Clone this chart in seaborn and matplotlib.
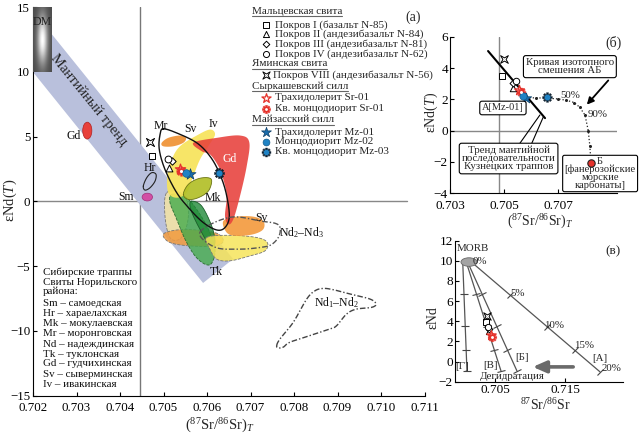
import numpy as np
import pandas as pd
import matplotlib
matplotlib.use("Agg")
import matplotlib.pyplot as plt
import seaborn as sns
from matplotlib.patches import Ellipse
from matplotlib.path import Path
from matplotlib.markers import MarkerStyle
from matplotlib.transforms import Affine2D
from matplotlib.lines import Line2D
from matplotlib.ticker import FormatStrFormatter

# ======================= DATA =======================
samples = ["N-85", "N-84", "N-81", "N-62", "N-56", "Sr-01t", "Sr-01q", "Mz-01", "Mz-02", "Mz-03"]
# panel (a)
a_x = [0.70473, 0.70513, 0.70520, 0.70510, 0.70470, 0.70538, 0.70540, 0.70561, 0.70552, 0.70628]
a_y = [3.50, 2.60, 3.10, 3.30, 4.55, 2.50, 2.33, 2.08, 2.20, 2.20]
# panel (б)
b_x = [0.70493, 0.70535, 0.70535, 0.70544, 0.70500, 0.70556, 0.70562, 0.70582, 0.70572, 0.70658]
b_y = [3.50, 2.75, 3.05, 3.20, 4.60, 2.60, 2.45, 2.10, 2.20, 2.15]
# panel (в)
c_x = [0.70365, 0.70410, 0.70420, 0.70400, 0.70380, 0.70450, 0.70460, np.nan, np.nan, np.nan]
c_y = [3.95, 3.00, 3.25, 3.45, 4.50, 2.65, 2.40, np.nan, np.nan, np.nan]

# ---- fields of Noril'sk formations, panel (a)
band_x = [0.70200, 0.70200, 0.70660, 0.70591]
band_y = [9.98, 14.70, -4.45, -6.30]
iv_x = [0.705763, 0.706069, 0.706184, 0.70603, 0.705839, 0.705685, 0.705533, 0.705303, 0.70511, 0.705087, 0.705189, 0.705379]
iv_y = [5.08, 5.54, 5.15, 4.25, 3.23, 1.95, 0.67, 0.28, 0.67, 1.95, 3.23, 4.25]
pale_x = [0.705074, 0.705455, 0.70557, 0.705533, 0.705379, 0.705149, 0.705034]
pale_y = [0.67, 0.54, -0.62, -1.9, -2.9, -2.8, -1.13]
tk_x = [0.705189, 0.705494, 0.705763, 0.70603, 0.706184, 0.706108, 0.705954, 0.705724, 0.705494, 0.705303, 0.705149]
tk_y = [0.54, 0.36, -0.62, -2.15, -3.69, -4.77, -4.85, -4.21, -2.92, -1.38, -0.1]
tkd_x = [0.705648, 0.705878, 0.706108, 0.706184, 0.706069, 0.705878, 0.705685, 0.705609]
tkd_y = [0.02, -0.36, -1.9, -3.18, -3.44, -2.41, -1.13, -0.36]
mk_x = [0.705455, 0.70557, 0.7058, 0.70603, 0.706108, 0.70603, 0.7058, 0.70557]
mk_y = [0.54, 1.31, 1.75, 1.82, 1.56, 0.79, 0.28, 0.15]
gd_x = [0.705685, 0.706223, 0.706759, 0.706972, 0.706913, 0.706759, 0.706605, 0.70649, 0.706414, 0.706453, 0.706375, 0.70626, 0.706069, 0.705878]
gd_y = [4.52, 4.90, 5.08, 4.56, 2.72, 0.41, -1.38, -1.77, -1.13, 0.41, 1.69, 2.72, 3.62, 3.87]
svt_x = [0.704959, 0.70511, 0.705379, 0.705517, 0.705455, 0.705225, 0.704995]
svt_y = [4.52, 4.9, 5.08, 4.9, 4.52, 4.25, 4.25]
orl_x = [0.704995, 0.705303, 0.705763, 0.706223, 0.706375, 0.706184, 0.705609, 0.705149]
orl_y = [-2.54, -2.21, -2.21, -2.46, -3.05, -3.44, -3.44, -3.18]
svl_x = [0.706375, 0.706683, 0.707064, 0.707294, 0.707294, 0.707064, 0.706683, 0.706453]
svl_y = [-1.52, -1.18, -1.18, -1.52, -2.15, -2.54, -2.67, -2.41]
yel_x = [0.705993, 0.706529, 0.707143, 0.707386, 0.707333, 0.706989, 0.706529, 0.706223, 0.706069]
yel_y = [-2.79, -2.62, -2.79, -3.18, -3.82, -4.21, -4.59, -4.46, -3.69]
nd23_x = [0.705839, 0.706529, 0.707264, 0.707563, 0.707678, 0.707655, 0.707494, 0.707264, 0.706759, 0.706184]
nd23_y = [-2.38, -1.23, -1.54, -1.69, -2.0, -2.69, -3.31, -3.54, -3.69, -3.54]
nd12_x = [0.707602, 0.707678, 0.707984, 0.708292, 0.708483, 0.708674, 0.708903, 0.709287, 0.709747, 0.709885,
          0.709786, 0.709441, 0.709211, 0.708982, 0.708828, 0.708368, 0.707908, 0.707754, 0.707639]
nd12_y = [-11.13, -10.62, -9.33, -7.54, -6.9, -6.72, -6.82, -7.15, -7.54, -7.92,
          -8.18, -8.31, -8.69, -9.59, -9.85, -10.36, -10.87, -11.25, -11.31]
mr_x = [0.704995, 0.705303, 0.705763, 0.706069, 0.706283, 0.706437, 0.706513, 0.706414, 0.706223, 0.705915,
        0.705609, 0.705303, 0.705034, 0.704903, 0.70492]
mr_y = [5.59, 5.28, 4.52, 3.48, 2.2, 0.67, -1.13, -2.02, -2.21, -1.64, -0.62, 0.67, 2.46, 4.0, 5.15]
hr_x = [0.704536, 0.704614, 0.704729, 0.704828, 0.704805, 0.70469, 0.704575]
hr_y = [1.18, 1.82, 2.21, 2.08, 1.56, 1.05, 0.87]
sm_center, sm_w, sm_h = (0.704628, 0.33), 0.00024, 0.60
gds_center, gds_w, gds_h = (0.703248, 5.46), 0.00021, 1.30
dm_x = [0.70200, 0.70242]
dm_y = [10.0, 15.0]

field_labels = ["Gd", "Sm", "Hr", "Mr", "Sv", "Iv", "Gd", "Mk", "Sv", "Tk", "Nd$_2$–Nd$_3$", "Nd$_1$–Nd$_2$"]
field_lab_x = [0.702943, 0.704138, 0.704674, 0.704936, 0.705609, 0.706145, 0.706529, 0.70613, 0.70724, 0.706223, 0.708177, 0.708982]
field_lab_y = [5.02, 0.36, 2.6, 5.85, 5.59, 6.0, 3.28, 0.28, -1.3, -5.44, -2.41, -7.85]

ref_x_a, ref_y_a, ref_y_a_end = 0.70445, 0.0, 0.7106

legend_rows = [("head", "Мальцевская свита"), ("N-85", "Покров I (базальт N-85)"),
               ("N-84", "Покров II (андезибазальт N-84)"), ("N-81", "Покров III (андезибазальт N-81)"),
               ("N-62", "Покров IV (андезибазальт N-62)"), ("head", "Яминская свита"),
               ("N-56", "Покров VIII (андезибазальт N-56)"), ("head", "Сыркашевский силл"),
               ("Sr-01t", "Трахидолерит Sr-01"), ("Sr-01q", "Кв. монцодиорит Sr-01"),
               ("head", "Майзасский силл"), ("Mz-01", "Трахидолерит Mz-01"),
               ("Mz-02", "Монцодиорит Mz-02"), ("Mz-03", "Кв. монцодиорит Mz-03")]
key_lines = ["Сибирские траппы", "Свиты Норильского", "района:", "Sm – самоедская", "Hr – хараелахская",
             "Mk – мокулаевская", "Mr – моронговская", "Nd – надеждинская", "Tk – туклонская",
             "Gd – гудчихинская", "Sv – сыверминская", "Iv – ивакинская"]

# ---- panel (б)
trend_x = [0.70441, 0.70652]
trend_y = [5.1, 0.8]
mix_x = [0.70582, 0.70620, 0.70660, 0.70700, 0.70730, 0.70760, 0.70780, 0.70800, 0.70812, 0.70818, 0.70822]
mix_y = [2.10, 2.10, 2.08, 2.03, 1.95, 1.80, 1.50, 1.00, 0.00, -1.00, -2.05]
carb_x, carb_y = 0.70822, -2.05
ref_x_b = 0.7048

# ---- panel (в)
mix_names = ["А", "Б", "В", "Г"]
mv_start_x = [0.70167, 0.70104, 0.70086, 0.70039]
mv_start_y = [9.86, 9.96, 9.96, 9.96]
mv_end_x = [0.72000, 0.70814, 0.70586, 0.70100]
mv_end_y = [-1.02, -0.93, -0.93, -0.93]
tick_frac = [0.30, 0.59, 0.805, 1.0]
mv_lab_x = [0.72000, 0.70881, 0.70429, 0.70029]
mv_lab_y = [0.33, 0.43, -0.40, -0.50]
pct_labels = ["0%", "5%", "10%", "15%", "20%"]
pct_x = [0.70286, 0.70819, 0.71343, 0.71771, 0.72167]
pct_y = [9.96, 6.74, 3.60, 1.55, -0.65]
morb_center, morb_w, morb_h = (0.70129, 9.88), 0.00230, 0.85
dehyd_from, dehyd_to = (0.71657, -0.53), (0.71000, -0.53)

# ======================= STYLE =======================
sns.set_theme(style="white")
plt.rcParams["font.family"] = ["Liberation Serif", "DejaVu Serif"]
plt.rcParams["mathtext.fontset"] = "custom"
plt.rcParams["mathtext.rm"] = "Liberation Serif"
plt.rcParams["mathtext.it"] = "Liberation Serif:italic"
plt.rcParams["mathtext.bf"] = "Liberation Serif:bold"
plt.rcParams["axes.unicode_minus"] = True

# custom markers
cross_path = Path([(1, 1), (0, 0.42), (-1, 1), (-0.42, 0), (-1, -1), (0, -0.42), (1, -1), (0.42, 0), (1, 1)],
                  [Path.MOVETO] + [Path.LINETO] * 7 + [Path.CLOSEPOLY])
gv = []
for i in range(8):
    a0 = np.deg2rad(i * 45)
    for da, r in [(-13, 1.0), (13, 1.0), (22.5 - 9, 0.7), (22.5 + 9, 0.7)]:
        a = a0 + np.deg2rad(da)
        gv.append((r * np.cos(a), r * np.sin(a)))
gv.append(gv[0])
gear_path = Path(gv, [Path.MOVETO] + [Path.LINETO] * (len(gv) - 2) + [Path.CLOSEPOLY])

RED = "#e5322b"
BLUE = "#1f82c4"
STYLE = {
    "N-85": [dict(marker="s", s=20, color="white", edgecolor="black", linewidth=0.7)],
    "N-84": [dict(marker="^", s=24, color="white", edgecolor="black", linewidth=0.7)],
    "N-81": [dict(marker="D", s=14, color="white", edgecolor="black", linewidth=0.7)],
    "N-62": [dict(marker="o", s=24, color="white", edgecolor="black", linewidth=0.7)],
    "N-56": [dict(marker=cross_path, s=34, color="white", edgecolor="black", linewidth=0.7)],
    "Sr-01t": [dict(marker="*", s=60, color="white", edgecolor=RED, linewidth=0.9)],
    "Sr-01q": [dict(marker=gear_path, s=46, color=RED, edgecolor=RED, linewidth=0.3),
               dict(marker="o", s=5, color="white", edgecolor="white", linewidth=0)],
    "Mz-01": [dict(marker="*", s=70, color="#1a6cab", edgecolor="#0c3d66", linewidth=0.5)],
    "Mz-02": [dict(marker="o", s=30, color=BLUE, edgecolor="#125a8a", linewidth=0.5)],
    "Mz-03": [dict(marker=gear_path, s=52, color="#0b1e2e", edgecolor="#0b1e2e", linewidth=0.3),
              dict(marker="o", s=20, color=BLUE, edgecolor=BLUE, linewidth=0)],
}


def draw_samples(ax, xs, ys, scale=1.0, z=20):
    for key, x, y in zip(samples, xs, ys):
        if np.isnan(x):
            continue
        for i, layer in enumerate(STYLE[key]):
            kw = dict(layer)
            kw["s"] = kw["s"] * scale
            sns.scatterplot(x=[x], y=[y], ax=ax, zorder=z + i, legend=False, **kw)


def smooth(xs, ys, n=16):
    pts = np.column_stack([xs, ys]).astype(float)
    P = np.vstack([pts[-1], pts, pts[0], pts[1]])
    t = np.linspace(0, 1, n, endpoint=False)[:, None]
    out = []
    for i in range(1, len(pts) + 1):
        p0, p1, p2, p3 = P[i - 1], P[i], P[i + 1], P[i + 2]
        out.append(0.5 * (2 * p1 + (-p0 + p2) * t + (2 * p0 - 5 * p1 + 4 * p2 - p3) * t ** 2
                          + (-p0 + 3 * p1 - 3 * p2 + p3) * t ** 3))
    out = np.vstack(out + [out[0][:1]])
    return out[:, 0], out[:, 1]


def style_axes(ax, ypad=2, xpad=2, size=9.5):
    sns.despine(ax=ax)
    for s in ["left", "bottom"]:
        ax.spines[s].set_color("black")
        ax.spines[s].set_linewidth(0.8)
    ax.tick_params(direction="in", length=3, width=0.8, colors="black", labelsize=size,
                   bottom=True, left=True)
    ax.tick_params(axis="y", pad=ypad)
    ax.tick_params(axis="x", pad=xpad)
    ax.set_xlabel("")
    ax.set_ylabel("")
    ax.patch.set_alpha(0)


W, H = 639, 436
fig = plt.figure(figsize=(W / 100, H / 100), dpi=100)
axA = fig.add_axes([33 / W, 1 - 395.7 / H, 391.5 / W, 388.7 / H])
axB = fig.add_axes([450 / W, 1 - 193 / H, 167 / W, 156 / H])
axC = fig.add_axes([455 / W, 1 - 381.7 / H, 168 / W, 141 / H])

# ======================= PANEL (a) =======================
ax = axA
ax.fill(band_x, band_y, color="#b9c0dc", zorder=1, lw=0)
ax.text(0.703271, 7.82, "Мантийный тренд", rotation=-51, ha="center", va="center",
        fontsize=10.5, color="#222", zorder=2)

gy, gx = np.mgrid[-1:1:120j, -1:1:40j]
grad = 0.30 + 0.70 * np.exp(-((gx / 0.55) ** 2 + (gy / 0.75) ** 2))
ax.imshow(grad, extent=[dm_x[0], dm_x[1], dm_y[0], dm_y[1]], aspect="auto", cmap="gray",
          vmin=0, vmax=1, zorder=3)
ax.text(0.70222, 13.86, "DM", fontsize=8.5, ha="center", va="center", color="#222", zorder=4)

def field(xs, ys, fc, alpha, z, ec="none", ls="-", lw=0.6):
    sx, sy = smooth(xs, ys)
    ax.fill(sx, sy, facecolor=fc, alpha=alpha, zorder=z, edgecolor="none")
    if ec != "none":
        ax.plot(sx, sy, color=ec, ls=ls, lw=lw, zorder=z + 0.1)

field(pale_x, pale_y, "#f1e2a6", 0.9, 5, ec="#777", ls="--")
field(orl_x, orl_y, "#f19a3e", 0.85, 6, ec="#777", ls="--")
field(tk_x, tk_y, "#45ab4c", 0.80, 7, ec="#2c6e33", ls="--")
field(tkd_x, tkd_y, "#1f8a38", 0.80, 8, ec="#1a5e2a")
field(yel_x, yel_y, "#f6e45a", 0.85, 9, ec="#777", ls="--")
field(svl_x, svl_y, "#f3993c", 0.90, 10)
field(iv_x, iv_y, "#f7e35a", 0.92, 11)
field(mk_x, mk_y, "#b2bf28", 0.92, 12, ec="#6b7414")
field(gd_x, gd_y, "#e8403b", 0.88, 13)
field(svt_x, svt_y, "#f0953a", 0.95, 14)

for xs, ys, c, ls, lw in [(mr_x, mr_y, "#111", "-", 1.0), (nd23_x, nd23_y, "#555", (0, (4, 1.5, 1, 1.5)), 1.0),
                          (nd12_x, nd12_y, "#444", (0, (4, 1.5, 1, 1.5)), 1.0), (hr_x, hr_y, "#222", "-", 0.8)]:
    sx, sy = smooth(xs, ys)
    ax.plot(sx, sy, color=c, ls=ls, lw=lw, zorder=15)

ax.add_patch(Ellipse(sm_center, sm_w, sm_h, facecolor="#d24fa5", edgecolor="#a0307a", lw=0.5, zorder=15))
ax.add_patch(Ellipse(gds_center, gds_w, gds_h, angle=0, facecolor="#e8403b", edgecolor="#b02020", lw=0.5, zorder=15))

ax.axvline(ref_x_a, color="#777", lw=1.0, zorder=0.5)
ax.plot([dm_x[0], ref_y_a_end], [ref_y_a, ref_y_a], color="#888", lw=1.0, zorder=0.5)

for lab, x, y in zip(field_labels, field_lab_x, field_lab_y):
    ax.text(x, y, lab, ha="center", va="center", fontsize=8.5,
            color="white" if (lab == "Gd" and x > 0.705) else "#111", zorder=25)

draw_samples(ax, a_x, a_y, scale=1.0)

ax.set_xlim(0.702, 0.711)
ax.set_ylim(-15, 15)
ax.set_xticks(np.arange(0.702, 0.71101, 0.001))
ax.set_yticks([-15, -10, -5, 0, 5, 10, 15])
ax.xaxis.set_major_formatter(FormatStrFormatter("%.3f"))
style_axes(ax, ypad=2, xpad=4.5, size=9.3)

# legend of samples (axes-fraction layout)
legend_y = [0.9897, 0.9537, 0.9306, 0.905, 0.8791, 0.8534, 0.8251, 0.7968, 0.7659, 0.7376, 0.7093, 0.6784, 0.6527, 0.627]
heads = []
for (key, txt), yy in zip(legend_rows, legend_y):
    if key == "head":
        heads.append(ax.text(0.5594, yy, txt, transform=ax.transAxes, fontsize=8, va="center", ha="left"))
    else:
        tx = 0.613 if key == "N-56" else 0.6181
        ax.text(tx, yy, txt, transform=ax.transAxes, fontsize=8, va="center", ha="left")
        for i, layer in enumerate(STYLE[key]):
            kw = dict(layer)
            kw["s"] = kw["s"] * 0.8
            c = kw.pop("color")
            ax.scatter([0.5951], [yy], transform=ax.transAxes, clip_on=False, zorder=30 + i,
                       facecolor=c, **kw)
ax.text(0.9706, 0.9743, "(a)", transform=ax.transAxes, fontsize=10, ha="center", va="center")

key_y = [0.3175, 0.2918, 0.2686, 0.2377, 0.2120, 0.1845, 0.1588, 0.1330, 0.1065, 0.0816, 0.0558, 0.0293]
for txt, yy in zip(key_lines, key_y):
    ax.text(0.0255, yy, txt, transform=ax.transAxes, fontsize=7.9, va="center", ha="left", color="#111")

# ======================= PANEL (б) =======================
ax = axB
ax.axvline(ref_x_b, color="#888", lw=1.0, zorder=0.5)
ax.axhline(0, color="#888", lw=1.0, zorder=0.5)
sns.lineplot(x=trend_x, y=trend_y, ax=ax, color="black", lw=1.5, sort=False, estimator=None, zorder=5)
sns.lineplot(x=mix_x, y=mix_y, ax=ax, color="#222", lw=0.9, ls=":", sort=False, estimator=None,
             marker="o", markersize=2.2, markeredgewidth=0, zorder=5)
sns.scatterplot(x=[carb_x], y=[carb_y], ax=ax, marker="o", s=28, color=RED, edgecolor="#222",
                linewidth=0.8, zorder=30, legend=False)
draw_samples(ax, b_x, b_y, scale=0.9)

box = dict(boxstyle="round,pad=0.22", fc="white", ec="black", lw=0.8)
ax.text(0.70744, 4.1, "Кривая изотопного\nсмешения АБ", ha="center", va="center", fontsize=7.8,
        linespacing=0.9, bbox=box, zorder=40)
ax.text(0.70496, 1.45, "A[Mz-01]", ha="center", va="center", fontsize=7.5, bbox=box, zorder=40)
ax.text(0.70517, -1.79, "Тренд мантийной\nпоследовательности\nКузнецких траппов", ha="center",
        va="center", fontsize=7.8, linespacing=0.88, bbox=box, zorder=40)
ax.text(0.70856, -2.75, "Б\n[фанерозойские\nморские\nкарбонаты]", ha="center", va="center",
        fontsize=7.6, linespacing=0.8, bbox=dict(boxstyle="round,pad=0.18", fc="white", ec="black", lw=0.8),
        zorder=25)
ax.text(0.70744, 2.28, "50%", ha="center", va="center", fontsize=7.8, zorder=40)
ax.text(0.70848, 1.0, "90%", ha="center", va="center", fontsize=7.8, zorder=40)
ax.annotate("", xy=(0.70800, 1.53), xytext=(0.70893, 3.35),
            arrowprops=dict(arrowstyle="-|>", color="black", lw=1.3, mutation_scale=10), zorder=41,
            annotation_clip=False)
ax.plot([0.70559, 0.70633], [-0.81, 1.0], color="black", lw=0.8, zorder=6)
ax.plot([0.70603, 0.70646], [-0.81, 0.89], color="black", lw=0.8, zorder=6)
ax.text(0.70904, 5.6, "(б)", ha="center", va="center", fontsize=10)

ax.set_xlim(0.703, 0.703 + 167 / 27000)
ax.set_ylim(-4, 6)
ax.set_xticks([0.703, 0.705, 0.707])
ax.set_yticks([-4, -2, 0, 2, 4, 6])
ax.xaxis.set_major_formatter(FormatStrFormatter("%.3f"))
style_axes(ax, ypad=1.5, xpad=5)

# ======================= PANEL (в) =======================
ax = axC
ax.set_xlim(0.69929, 0.72329)
ax.set_ylim(-2, 12)
for sx_, sy_, ex_, ey_ in zip(mv_start_x, mv_start_y, mv_end_x, mv_end_y):
    sns.lineplot(x=[sx_, ex_], y=[sy_, ey_], ax=ax, color="#555", lw=0.9, sort=False, estimator=None, zorder=3)
    p0 = ax.transData.transform((sx_, sy_))
    p1 = ax.transData.transform((ex_, ey_))
    ang = np.degrees(np.arctan2(p1[1] - p0[1], p1[0] - p0[0]))
    tx = [sx_ + f * (ex_ - sx_) for f in tick_frac]
    ty = [sy_ + f * (ey_ - sy_) for f in tick_frac]
    ax.plot(tx, ty, ls="none", marker=MarkerStyle("|", transform=Affine2D().rotate_deg(ang)),
            ms=6, mew=0.8, color="#444", zorder=4)
ax.add_patch(Ellipse(morb_center, morb_w, morb_h, facecolor="#a3a3a3", edgecolor="#666", lw=0.6, zorder=5))
ax.text(0.70186, 11.2, "MORB", ha="center", va="center", fontsize=7.8)
for lab, x, y in zip(pct_labels, pct_x, pct_y):
    ax.text(x, y, lab, ha="center", va="center", fontsize=7.8, zorder=6)
for lab, x, y in zip(mix_names, mv_lab_x, mv_lab_y):
    ax.text(x, y, "[" + lab + "]", ha="center", va="center", fontsize=7.8, zorder=6)
ax.annotate("", xy=dehyd_to, xytext=dehyd_from,
            arrowprops=dict(arrowstyle="-|>,head_length=0.8,head_width=0.35", color="#6a6a6a", lw=2.6,
                            mutation_scale=10), zorder=6)
ax.text(0.70743, -1.5, "Дегидратация", ha="center", va="center", fontsize=7.8, zorder=6)
ax.text(0.72186, 10.9, "(в)", ha="center", va="center", fontsize=9.5)
draw_samples(ax, c_x, c_y, scale=0.85)
ax.set_xticks([0.705, 0.715])
ax.set_yticks([-2, 0, 2, 4, 6, 8, 10, 12])
ax.xaxis.set_major_formatter(FormatStrFormatter("%.3f"))
style_axes(ax, ypad=1.5, xpad=2)

# ======================= AXIS LABELS =======================
fig.text(220 / W, 1 - 426 / H, r"$(^{87}\mathrm{Sr}/^{86}\mathrm{Sr})_T$", ha="center", va="center", fontsize=10.5)
fig.text(10 / W, 1 - 200 / H, r"εNd($T$)", rotation=90, ha="center", va="center", fontsize=10.5)
fig.text(431 / W, 1 - 112 / H, r"εNd($T$)", rotation=90, ha="center", va="center", fontsize=10)
fig.text(540 / W, 1 - 222 / H, r"$(^{87}\mathrm{Sr}/^{86}\mathrm{Sr})_T$", ha="center", va="center", fontsize=10)
fig.text(433 / W, 1 - 318 / H, "εNd", rotation=90, ha="center", va="center", fontsize=10)
fig.text(545 / W, 1 - 405 / H, r"$^{87}\mathrm{Sr}/^{86}\mathrm{Sr}$", ha="center", va="center", fontsize=10)

# underline legend headings
fig.canvas.draw()
r = fig.canvas.get_renderer()
for t in heads:
    bb = t.get_window_extent(r)
    y = (bb.y0 - 0.5) / H
    fig.add_artist(Line2D([bb.x0 / W, bb.x1 / W], [y, y], color="#666", lw=0.8))

fig.savefig("out.png", dpi=100)
